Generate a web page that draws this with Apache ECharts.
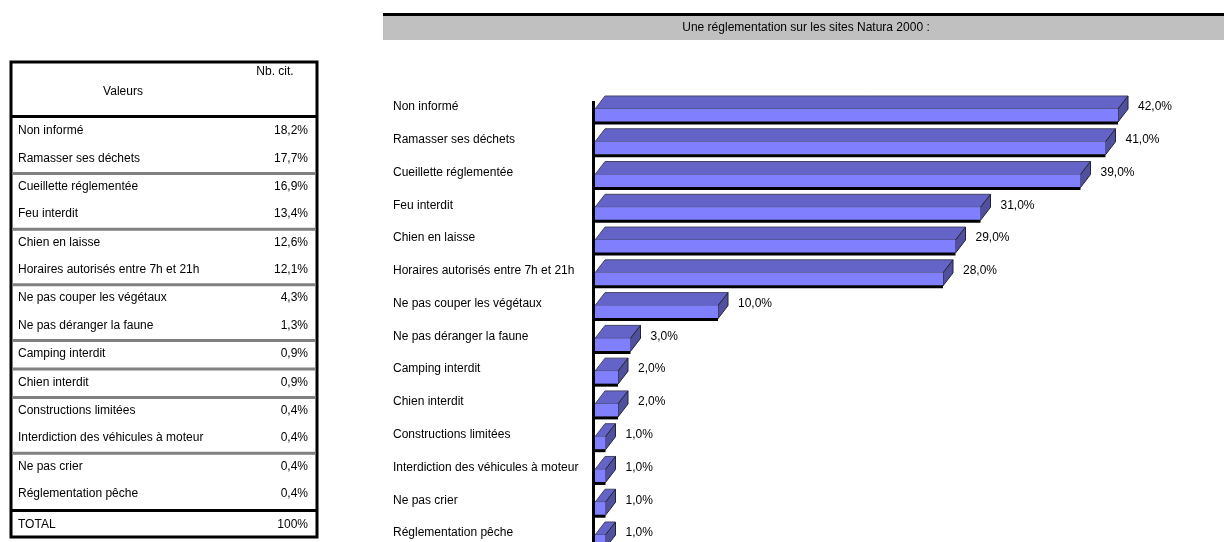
<!DOCTYPE html>
<html lang="fr" style="height: 100%">
<head>
  <meta charset="utf-8">
</head>
<body style="height: 100%; margin: 0; background: #fff">
  <div id="container" style="width: 1224px; height: 542px"></div>
  <script type="text/javascript" src="https://cdn.jsdelivr.net/npm/echarts@6/dist/echarts.min.js"></script>
  <script type="text/javascript">
    // données du graphique (nb de citations en %)
    var chartTitle = 'Une réglementation sur les sites Natura 2000 :';
    var categories = [
      'Non informé', 'Ramasser ses déchets', 'Cueillette réglementée', 'Feu interdit',
      'Chien en laisse', 'Horaires autorisés entre 7h et 21h', 'Ne pas couper les végétaux',
      'Ne pas déranger la faune', 'Camping interdit', 'Chien interdit', 'Constructions limitées',
      'Interdiction des véhicules à moteur', 'Ne pas crier', 'Réglementation pêche'
    ];
    var values = [42, 41, 39, 31, 29, 28, 10, 3, 2, 2, 1, 1, 1, 1];

    // tableau de gauche
    var tableHeader = ['Valeurs', 'Nb. cit.'];
    var tableValues = ['18,2%', '17,7%', '16,9%', '13,4%', '12,6%', '12,1%', '4,3%', '1,3%',
                       '0,9%', '0,9%', '0,4%', '0,4%', '0,4%', '0,4%'];
    var tableGroups = [0, 0, 1, 1, 2, 2, 3, 3, 4, 5, 6, 6, 7, 7];
    var tableTotal = ['TOTAL', '100%'];

    var dom = document.getElementById('container');
    var myChart = echarts.init(dom, null, { renderer: 'canvas' });

    var font = '"Liberation Sans", Arial, sans-serif';

    function rowY(i) {
      return 131 + i * 27.2 + tableGroups[i] * 1.3;
    }

    // construction du tableau avec des éléments graphic
    var graphic = [];
    // bandeau du titre
    graphic.push({ type: 'rect', shape: { x: 383, y: 16, width: 841, height: 24 }, style: { fill: '#c0c0c0' } });
    graphic.push({ type: 'rect', shape: { x: 383, y: 13, width: 841, height: 3 }, style: { fill: '#000' } });
    graphic.push({ type: 'text', x: 806, y: 28, style: { text: chartTitle, font: '12px ' + font, fill: '#000', align: 'center', verticalAlign: 'middle' } });
    // axe vertical
    graphic.push({ type: 'line', shape: { x1: 593.5, y1: 101, x2: 593.5, y2: 542 }, style: { stroke: '#000', lineWidth: 3 } });

    graphic.push({ type: 'rect', shape: { x: 11, y: 62, width: 306, height: 475 }, style: { fill: 'none', stroke: '#000', lineWidth: 3 } });
    graphic.push({ type: 'line', shape: { x1: 11, y1: 116.5, x2: 317, y2: 116.5 }, style: { stroke: '#000', lineWidth: 3 } });
    graphic.push({ type: 'text', x: 123, y: 92, style: { text: tableHeader[0], font: '12px ' + font, fill: '#000', align: 'center', verticalAlign: 'middle' } });
    graphic.push({ type: 'text', x: 275, y: 72, style: { text: tableHeader[1], font: '12px ' + font, fill: '#000', align: 'center', verticalAlign: 'middle' } });

    for (var i = 0; i < categories.length; i++) {
      var y = rowY(i);
      graphic.push({ type: 'text', x: 18, y: y, style: { text: categories[i], font: '12px ' + font, fill: '#000', verticalAlign: 'middle' } });
      graphic.push({ type: 'text', x: 308, y: y, style: { text: tableValues[i], font: '12px ' + font, fill: '#000', align: 'right', verticalAlign: 'middle' } });
      if (i < categories.length - 1 && tableGroups[i + 1] !== tableGroups[i]) {
        var ys = (rowY(i) + rowY(i + 1)) / 2 + 1;
        graphic.push({ type: 'line', shape: { x1: 12, y1: ys, x2: 316, y2: ys }, style: { stroke: '#808080', lineWidth: 3 } });
      }
    }
    graphic.push({ type: 'line', shape: { x1: 11, y1: 510.5, x2: 317, y2: 510.5 }, style: { stroke: '#000', lineWidth: 3 } });
    graphic.push({ type: 'text', x: 18, y: 525, style: { text: tableTotal[0], font: '12px ' + font, fill: '#000', verticalAlign: 'middle' } });
    graphic.push({ type: 'text', x: 308, y: 525, style: { text: tableTotal[1], font: '12px ' + font, fill: '#000', align: 'right', verticalAlign: 'middle' } });

    // barre en 3D dessinée via les échelles de l'axe
    function renderBar(params, api) {
      var v = api.value(0);
      var idx = api.value(1);
      var p0 = api.coord([0, idx]);
      var p1 = api.coord([v, idx]);
      var x0 = p0[0] + 2, x1 = p1[0], c = p1[1];
      var top = c + 2, bot = c + 15, dx = 10, dy = 13;
      return {
        type: 'group',
        children: [
          { type: 'polygon', shape: { points: [[x0, top], [x0 + dx, top - dy], [x1 + dx, top - dy], [x1, top]] },
            style: { fill: '#6464c8', stroke: '#44446a', lineWidth: 1 } },
          { type: 'polygon', shape: { points: [[x1, top], [x1 + dx, top - dy], [x1 + dx, bot - dy], [x1, bot]] },
            style: { fill: '#50509c', stroke: '#22223a', lineWidth: 1 } },
          { type: 'rect', shape: { x: x0, y: top, width: x1 - x0, height: bot - top },
            style: { fill: '#8080ff' } },
          { type: 'line', shape: { x1: x0, y1: bot + 1, x2: x1, y2: bot + 1 },
            style: { stroke: '#000', lineWidth: 3 } },
          { type: 'text', x: x1 + dx + 10, y: c,
            style: { text: v.toFixed(1).replace('.', ',') + '%', font: '12px ' + font, fill: '#000', verticalAlign: 'middle' } }
        ]
      };
    }

    var option = {
      animation: false,
      graphic: graphic,
      grid: { left: 593, top: 107, right: 6, bottom: 9, containLabel: false },
      xAxis: {
        type: 'value', min: 0, max: 50, show: false
      },
      yAxis: {
        type: 'category',
        inverse: true,
        boundaryGap: false,
        data: categories,
        axisLine: { show: false },
        axisTick: { show: false },
        axisLabel: { align: 'left', margin: 200, color: '#000', fontSize: 12, fontFamily: font }
      },
      series: [{
        type: 'custom',
        renderItem: renderBar,
        clip: false,
        encode: { x: 0, y: 1 },
        data: values.map(function (v, i) { return [v, i]; })
      }]
    };

    myChart.setOption(option);
    window.addEventListener('resize', myChart.resize);
  </script>
</body>
</html>
